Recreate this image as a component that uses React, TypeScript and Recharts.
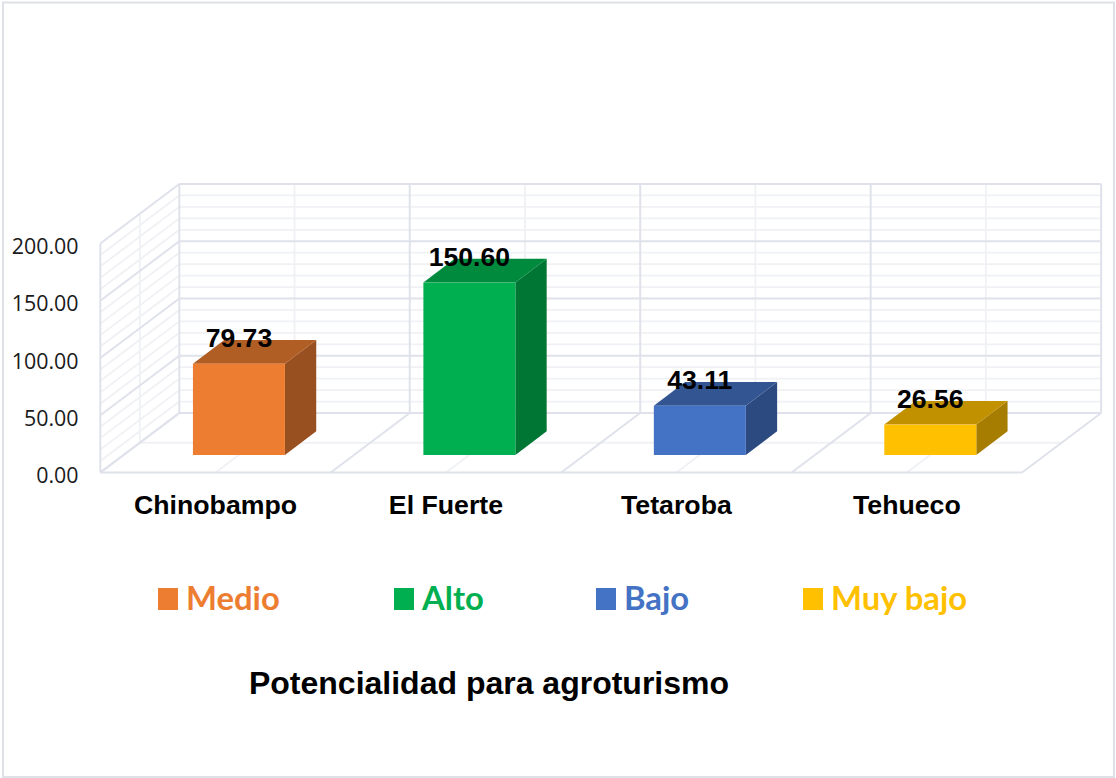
import React from "react";
import { BarChart, Bar, XAxis, YAxis, Legend, LabelList, Customized, usePlotArea } from "recharts";

const categories = ["Chinobampo", "El Fuerte", "Tetaroba", "Tehueco"];
const values = [79.73, 150.6, 43.11, 26.56];
const levels = ["Medio", "Alto", "Bajo", "Muy bajo"];
const yTicks = [0, 50, 100, 150, 200];
const minorStep = 10;
const yMax = 200;
const title = "Potencialidad para agroturismo";

const faces = [
  { front: "#ED7D31", top: "#B15E25", side: "#985020" },
  { front: "#00B050", top: "#008A3E", side: "#007634" },
  { front: "#4472C4", top: "#335693", side: "#2C4A80" },
  { front: "#FFC000", top: "#C29100", side: "#A67D00" },
];
const legendLeft = [158, 394, 596, 803];

const rows = categories.map((name, i) => ({ name, value: values[i] }));

const W = 1116;
const H = 778;
const MAJOR = "#DFE2EA";
const MINOR = "#F0F1F5";
const DEPTH_DX = 31.3;
const DEPTH_DY = 23.7;
const FRONT = { dx: -23.5, dy: 17.5 };
const BACK = { dx: 55.5, dy: -42 };
const SANS = "'Liberation Sans', Arial, sans-serif";

function Backdrop() {
  const plot = usePlotArea();
  if (!plot) return null;
  const k = plot.height / yMax;
  const bottom = plot.y + plot.height;
  const n = categories.length;
  const px = (t: number, d: number) => plot.x + (t / n) * plot.width + FRONT.dx + d * (BACK.dx - FRONT.dx);
  const py = (v: number, d: number) => bottom - v * k + FRONT.dy + d * (BACK.dy - FRONT.dy);
  const seg = (key: string, t1: number, v1: number, d1: number, t2: number, v2: number, d2: number, major: boolean) => (
    <line key={key} x1={px(t1, d1)} y1={py(v1, d1)} x2={px(t2, d2)} y2={py(v2, d2)} stroke={major ? MAJOR : MINOR} strokeWidth={major ? 2 : 1.8} />
  );
  const minor: React.ReactNode[] = [];
  const major: React.ReactNode[] = [];
  for (let v = 0; v <= yMax; v += minorStep) {
    const isMajor = yTicks.includes(v);
    const bucket = isMajor ? major : minor;
    bucket.push(seg(`bw${v}`, 0, v, 1, n, v, 1, isMajor));
    bucket.push(seg(`lw${v}`, 0, v, 0, 0, v, 1, isMajor));
  }
  minor.push(seg("lwm", 0, 0, 0.5, 0, yMax, 0.5, false));
  major.push(seg("lwf", 0, 0, 0, 0, yMax, 0, true));
  minor.push(seg("flm", 0, 0, 0.5, n, 0, 0.5, false));
  major.push(seg("flf", 0, 0, 0, n, 0, 0, true));
  for (let i = 0; i <= n; i++) {
    major.push(seg(`bv${i}`, i, 0, 1, i, yMax, 1, true));
    major.push(seg(`fl${i}`, i, 0, 0, i, 0, 1, true));
    if (i < n) {
      minor.push(seg(`bm${i}`, i + 0.5, 0, 1, i + 0.5, yMax, 1, false));
      minor.push(seg(`fm${i}`, i + 0.5, 0, 0, i + 0.5, 0, 1, false));
    }
  }
  return (
    <g>
      <rect x={3} y={2.5} width={W - 5} height={H - 3.5} fill="#FFFFFF" stroke="#DEE2E8" strokeWidth={2} />
      {minor}
      {major}
      <text x={489} y={683} textAnchor="middle" dominantBaseline="central" fontFamily={SANS} fontWeight={700} fontSize={32} fill="#000">
        {title}
      </text>
    </g>
  );
}

function Box(props: any) {
  const { x, y, width, height, index } = props;
  const c = faces[index];
  const top = `${x},${y} ${x + DEPTH_DX},${y - DEPTH_DY} ${x + width + DEPTH_DX},${y - DEPTH_DY} ${x + width},${y}`;
  const side = `${x + width},${y} ${x + width + DEPTH_DX},${y - DEPTH_DY} ${x + width + DEPTH_DX},${y + height - DEPTH_DY} ${x + width},${y + height}`;
  return (
    <g>
      <polygon points={side} fill={c.side} />
      <polygon points={top} fill={c.top} />
      <rect x={x} y={y} width={width} height={height} fill={c.front} />
    </g>
  );
}

function XTick(props: any) {
  const { x, y, payload } = props;
  return (
    <text x={x + FRONT.dx} y={y + 2} textAnchor="middle" dominantBaseline="central" fontFamily={SANS} fontWeight={700} fontSize={26.7} fill="#000">
      {payload.value}
    </text>
  );
}

function YTick(props: any) {
  const { y, payload } = props;
  return (
    <text x={78.5} y={y + FRONT.dy + 2} textAnchor="end" dominantBaseline="central" fontFamily="'Open Sans', sans-serif" fontSize={21.4} fill="#1a1a1a">
      {Number(payload.value).toFixed(2)}
    </text>
  );
}

function ValueLabel(props: any) {
  const { x, y, width, value } = props;
  return (
    <text x={x + width / 2} y={y - 26} textAnchor="middle" dominantBaseline="central" fontFamily={SANS} fontWeight={700} fontSize={26.6} fill="#000">
      {Number(value).toFixed(2)}
    </text>
  );
}

function LegendBox() {
  return (
    <div style={{ position: "absolute", left: 0, top: 0, width: W, height: H, pointerEvents: "none" }}>
      {levels.map((name, i) => (
        <div key={name} style={{ position: "absolute", left: legendLeft[i], top: 574, height: 46, display: "flex", alignItems: "center", whiteSpace: "nowrap" }}>
          <span style={{ display: "inline-block", width: 20, height: 22, marginTop: 4, background: faces[i].front, marginRight: 8 }} />
          <span style={{ fontFamily: "Lato, sans-serif", fontWeight: 700, fontSize: 32.8, color: faces[i].front }}>{name}</span>
        </div>
      ))}
    </div>
  );
}

export default function App() {
  return (
    <div style={{ position: "absolute", left: 0, top: 0, width: W, height: H, background: "#fff" }}>
      <BarChart width={W} height={H} data={rows} barCategoryGap="30%" margin={{ top: 226, right: 70.4, bottom: 263, left: 0 }}>
        <Customized component={Backdrop} />
        <XAxis dataKey="name" axisLine={false} tickLine={false} tick={<XTick />} height={60} tickMargin={42} interval={0} />
        <YAxis domain={[0, yMax]} ticks={yTicks} axisLine={false} tickLine={false} tick={<YTick />} width={123.8} />
        <Legend verticalAlign="middle" align="center" layout="horizontal" content={<LegendBox />} wrapperStyle={{ left: 0, top: 0, width: W, height: H, margin: 0 }} />
        <Bar dataKey="value" isAnimationActive={false} shape={<Box />}>
          <LabelList dataKey="value" content={<ValueLabel />} />
        </Bar>
      </BarChart>
    </div>
  );
}
